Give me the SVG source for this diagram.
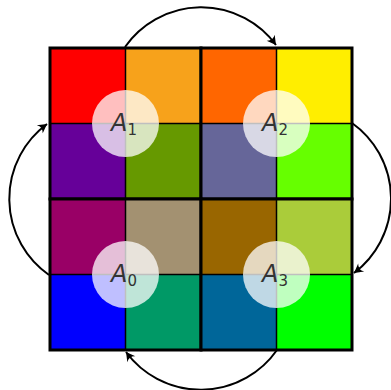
<svg xmlns="http://www.w3.org/2000/svg" width="391" height="390" viewBox="0 0 391 390">
<style>
.q{stroke:#000;stroke-width:3;fill:none}
.t{stroke:#000;stroke-width:1.5}
.c{fill:#fff;fill-opacity:0.75}
.lbl{font-family:"DejaVu Sans","Liberation Sans",sans-serif;fill:#333}
.a{font-style:italic;font-size:24px}
.s{font-size:15px}
.arr{fill:none;stroke:#000;stroke-width:2}
</style>
<defs>
<marker id="ah" viewBox="-10 -6 12 12" refX="0" refY="0" markerWidth="12" markerHeight="12" markerUnits="userSpaceOnUse" orient="auto">
<path d="M0,0 L-9,-5 Q-5,0 -9,5 Z" fill="#000"/>
</marker>
</defs>
<g id="A1">
<rect x="50" y="48" width="75.5" height="75.5" fill="#FF0000"/>
<rect x="125.5" y="48" width="75.5" height="75.5" fill="#F7A21B"/>
<rect x="50" y="123.5" width="75.5" height="75.5" fill="#660099"/>
<rect x="125.5" y="123.5" width="75.5" height="75.5" fill="#669900"/>
<line class="t" x1="125.5" y1="48" x2="125.5" y2="199"/>
<line class="t" x1="50" y1="123.5" x2="201" y2="123.5"/>
<rect class="q" x="50" y="48" width="151" height="151"/>
<circle class="c" cx="125.5" cy="123.5" r="33.5"/>
<text class="lbl" x="111" y="131"><tspan class="a">A</tspan><tspan class="s" dy="4">1</tspan></text>
</g>
<g id="A2">
<rect x="201" y="48" width="75.5" height="75.5" fill="#FF6600"/>
<rect x="276.5" y="48" width="75.5" height="75.5" fill="#FFEE00"/>
<rect x="201" y="123.5" width="75.5" height="75.5" fill="#666699"/>
<rect x="276.5" y="123.5" width="75.5" height="75.5" fill="#66FF00"/>
<line class="t" x1="276.5" y1="48" x2="276.5" y2="199"/>
<line class="t" x1="201" y1="123.5" x2="352" y2="123.5"/>
<rect class="q" x="201" y="48" width="151" height="151"/>
<circle class="c" cx="276.5" cy="123.5" r="33.5"/>
<text class="lbl" x="262" y="131"><tspan class="a">A</tspan><tspan class="s" dy="4">2</tspan></text>
</g>
<g id="A0">
<rect x="50" y="199" width="75.5" height="75.5" fill="#990066"/>
<rect x="125.5" y="199" width="75.5" height="75.5" fill="#A39171"/>
<rect x="50" y="274.5" width="75.5" height="75.5" fill="#0000FF"/>
<rect x="125.5" y="274.5" width="75.5" height="75.5" fill="#009966"/>
<line class="t" x1="125.5" y1="199" x2="125.5" y2="350"/>
<line class="t" x1="50" y1="274.5" x2="201" y2="274.5"/>
<rect class="q" x="50" y="199" width="151" height="151"/>
<circle class="c" cx="125.5" cy="274.5" r="33.5"/>
<text class="lbl" x="111" y="282"><tspan class="a">A</tspan><tspan class="s" dy="4">0</tspan></text>
</g>
<g id="A3">
<rect x="201" y="199" width="75.5" height="75.5" fill="#996600"/>
<rect x="276.5" y="199" width="75.5" height="75.5" fill="#AACC3A"/>
<rect x="201" y="274.5" width="75.5" height="75.5" fill="#006699"/>
<rect x="276.5" y="274.5" width="75.5" height="75.5" fill="#00FF00"/>
<line class="t" x1="276.5" y1="199" x2="276.5" y2="350"/>
<line class="t" x1="201" y1="274.5" x2="352" y2="274.5"/>
<rect class="q" x="201" y="199" width="151" height="151"/>
<circle class="c" cx="276.5" cy="274.5" r="33.5"/>
<text class="lbl" x="262" y="282"><tspan class="a">A</tspan><tspan class="s" dy="4">3</tspan></text>
</g>
<g id="connectors">
<path class="arr" d="M125,47 A93 93 0 0 1 276,45" marker-end="url(#ah)"/>
<path class="arr" d="M352,123 A93 93 0 0 1 354,273" marker-end="url(#ah)"/>
<path class="arr" d="M277,350 A93 93 0 0 1 126,352" marker-end="url(#ah)"/>
<path class="arr" d="M49,275 A93 93 0 0 1 47,124" marker-end="url(#ah)"/>
</g>
</svg>
